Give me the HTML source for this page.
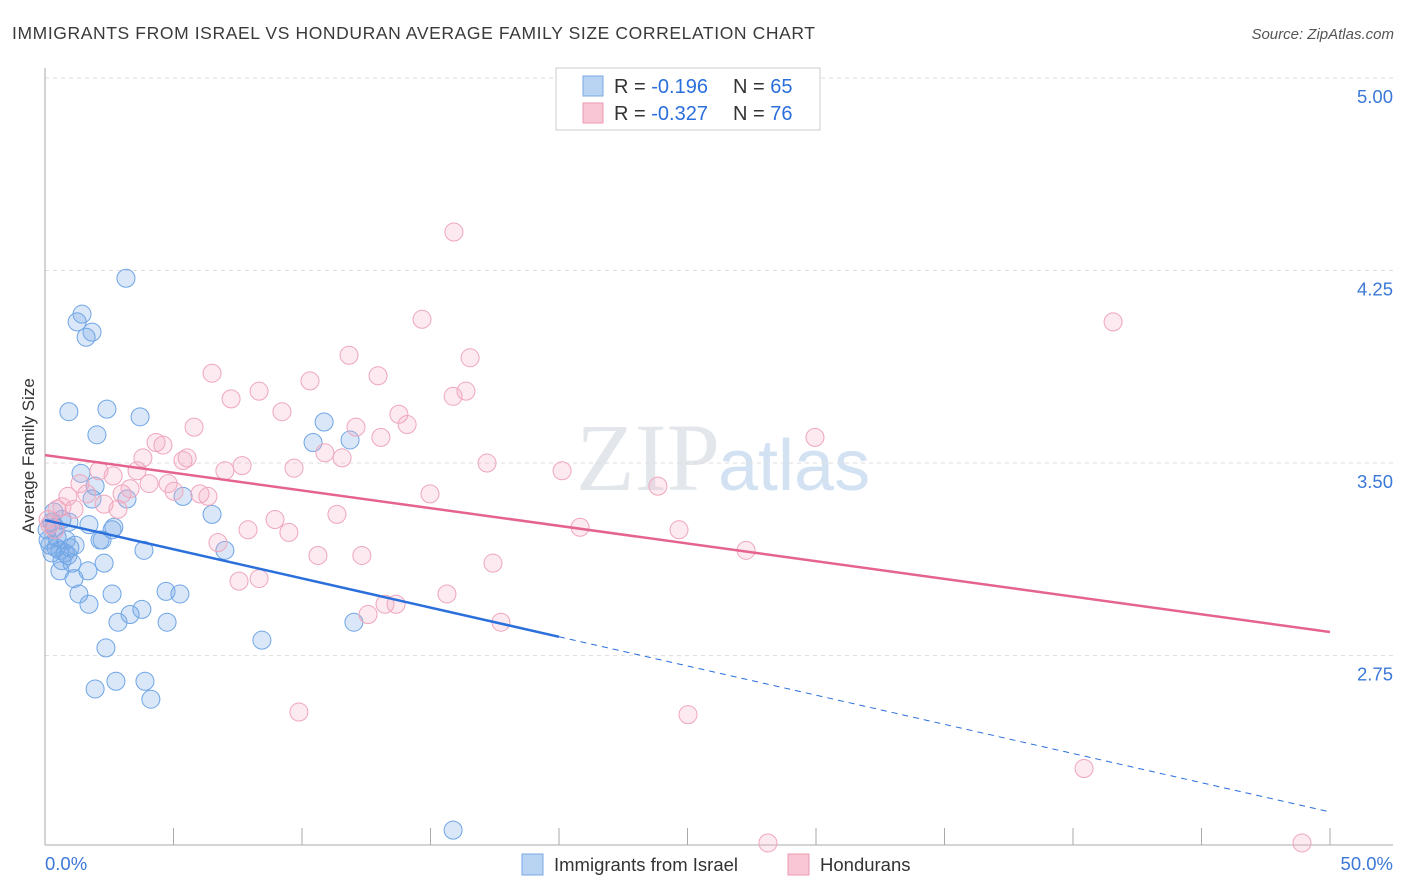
<!DOCTYPE html>
<html><head><meta charset="utf-8"><style>
body{margin:0;background:#fff;font-family:"Liberation Sans",Arial,sans-serif;}
svg{display:block}
</style></head><body>
<svg id="chart" width="1406" height="892">
<text x="12" y="39" font-size="17.5" fill="#3a3a3a" textLength="803" lengthAdjust="spacing">IMMIGRANTS FROM ISRAEL VS HONDURAN AVERAGE FAMILY SIZE CORRELATION CHART</text>
<text x="1394" y="39" font-size="15" fill="#555" font-style="italic" text-anchor="end">Source: ZipAtlas.com</text>
<text x="720" y="490" font-size="96" fill="#e3e7ec" text-anchor="end" font-family="Liberation Serif,serif">ZIP</text>
<text x="718" y="490" font-size="72" fill="#d3e2f3">atlas</text>
<g id="grid"></g><g id="axes"></g><g id="pts"></g><g id="lines"></g>
<text transform="translate(34,456) rotate(-90)" font-size="17" fill="#333" text-anchor="middle">Average Family Size</text>
<g>
<rect x="556" y="68" width="264" height="62" fill="#fff" stroke="#ccc"/>
<rect x="583" y="76" width="20" height="20" fill="#b9d3f3" stroke="#7aa9e3"/>
<text x="614" y="93" font-size="20" fill="#333">R = <tspan fill="#2a6fdb">-0.196</tspan><tspan x="733">N = </tspan><tspan fill="#2a6fdb">65</tspan></text>
<rect x="583" y="103" width="20" height="20" fill="#f8c6d4" stroke="#ec9ab2"/>
<text x="614" y="120" font-size="20" fill="#333">R = <tspan fill="#2a6fdb">-0.327</tspan><tspan x="733">N = </tspan><tspan fill="#2a6fdb">76</tspan></text>
</g>
<g>
<rect x="522" y="854" width="21" height="21" fill="#b9d3f3" stroke="#7aa9e3"/>
<text x="554" y="871" font-size="18.5" fill="#333">Immigrants from Israel</text>
<rect x="788" y="854" width="21" height="21" fill="#f8c6d4" stroke="#ec9ab2"/>
<text x="820" y="871" font-size="18.5" fill="#333">Hondurans</text>
</g>
</svg>
<script>
const blueX=[3.15,1.44,1.25,1.83,1.60,0.93,2.41,3.70,2.02,10.86,10.43,11.87,1.40,1.95,1.83,3.19,5.37,6.50,0.93,1.71,2.68,2.61,0.35,0.27,0.47,2.14,2.22,1.17,3.85,7.00,0.58,0.27,0.78,0.89,0.66,1.05,2.30,1.67,0.58,1.13,4.71,5.25,2.61,1.32,1.71,3.77,3.31,2.84,4.75,12.02,2.37,8.44,3.89,2.76,1.95,4.12,15.88,0.12,0.19,0.43,0.82,0.97,0.08,0.39,0.66];
const blueY=[4.22,4.08,4.05,4.01,3.99,3.70,3.71,3.68,3.61,3.66,3.58,3.59,3.46,3.41,3.36,3.36,3.37,3.30,3.27,3.26,3.25,3.24,3.31,3.27,3.21,3.20,3.20,3.18,3.16,3.16,3.16,3.15,3.15,3.14,3.12,3.11,3.11,3.08,3.08,3.05,3.00,2.99,2.99,2.99,2.95,2.93,2.91,2.88,2.88,2.88,2.78,2.81,2.65,2.65,2.62,2.58,2.07,3.20,3.18,3.17,3.20,3.17,3.24,3.25,3.28];
const pinkX=[15.91,41.56,14.67,11.83,16.54,6.50,12.96,10.31,8.33,16.38,15.88,7.24,9.22,13.77,14.09,12.10,5.80,13.07,29.96,4.32,4.59,10.89,3.81,11.56,5.53,5.37,17.20,7.67,9.69,20.12,7.00,2.10,3.58,2.65,4.05,4.79,1.36,3.31,23.85,5.02,6.03,6.34,1.63,0.89,14.98,3.00,2.30,0.66,2.84,1.13,11.36,8.95,20.82,24.67,9.49,7.90,6.73,27.28,10.62,12.33,17.43,8.33,7.55,15.64,13.23,13.66,12.57,17.74,9.88,25.02,40.43,28.13,48.91,0.47,0.19,0.39,0.12];
const pinkY=[4.40,4.05,4.06,3.92,3.91,3.85,3.84,3.82,3.78,3.78,3.76,3.75,3.70,3.69,3.65,3.64,3.64,3.60,3.60,3.58,3.57,3.54,3.52,3.52,3.52,3.51,3.50,3.49,3.48,3.47,3.47,3.47,3.47,3.45,3.42,3.42,3.42,3.40,3.41,3.39,3.38,3.37,3.38,3.37,3.38,3.38,3.34,3.33,3.32,3.32,3.30,3.28,3.25,3.24,3.23,3.24,3.19,3.16,3.14,3.14,3.11,3.05,3.04,2.99,2.95,2.95,2.91,2.88,2.53,2.52,2.31,2.02,2.02,3.32,3.26,3.24,3.28];
const yTicks=[5.00,4.25,3.50,2.75];
const xTickLabels=["0.0%","50.0%"];
const blueTrend=[3.278,2.141];
const pinkTrend=[3.531,2.842];
const NS="http://www.w3.org/2000/svg";
const X0=45,X1=1330,YTOP=78;
const sx=v=>X0+(v/50)*(X1-X0);
const sy=v=>YTOP+(5-v)*256.7;
function mk(tag,attrs,parent){const e=document.createElementNS(NS,tag);for(const k in attrs)e.setAttribute(k,attrs[k]);document.getElementById(parent).appendChild(e);return e;}
yTicks.forEach(t=>{
 const l=mk('line',{x1:X0,x2:1393,y1:sy(t),y2:sy(t),stroke:'#ddd','stroke-dasharray':'4,4'},'grid');
 
 
 const tx=mk('text',{x:1393,y:sy(t)+25,'font-size':18.5,fill:'#3b78d8','text-anchor':'end'},'grid');
 tx.textContent=t.toFixed(2);
 
 
});
const ax=mk('line',{x1:X0,x2:X0,y1:68,y2:845,stroke:'#aaa'},'axes');


const xa=mk('line',{x1:X0,x2:1393,y1:845,y2:845,stroke:'#aaa'},'axes');


for(let i=0;i<=10;i++){const t=mk('line',{x1:sx(i*5),x2:sx(i*5),y1:828,y2:845,stroke:'#aaa'},'axes');
 
 }
[[0,'start',45],[50,'end',1393]].forEach((d,i)=>{const t=mk('text',{x:d[2],y:870,'font-size':18.5,fill:'#3b78d8','text-anchor':d[1]},'axes');t.textContent=xTickLabels[i];
 
 });
blueX.forEach((v,i)=>{const c=mk('circle',{cx:sx(v),cy:sy(blueY[i]),r:9,fill:'rgba(120,170,230,0.28)',stroke:'#6fa5e6','stroke-width':1},'pts');
 
 });
pinkX.forEach((v,i)=>{const c=mk('circle',{cx:sx(v),cy:sy(pinkY[i]),r:9,fill:'rgba(245,170,195,0.25)',stroke:'#efa6bc','stroke-width':1},'pts');
 
 });
const bAt=x=>blueTrend[0]+(blueTrend[1]-blueTrend[0])*x/50;
const bl=mk('line',{x1:sx(0),y1:sy(bAt(0)),x2:sx(20),y2:sy(bAt(20)),stroke:'#2a6fdb','stroke-width':2.5},'lines');


const bd=mk('line',{x1:sx(20),y1:sy(bAt(20)),x2:sx(50),y2:sy(bAt(50)),stroke:'#2a6fdb','stroke-width':1,'stroke-dasharray':'6,5'},'lines');


const pl=mk('line',{x1:sx(0),y1:sy(pinkTrend[0]),x2:sx(50),y2:sy(pinkTrend[1]),stroke:'#e5638f','stroke-width':2.5},'lines');


</script>
</body></html>
